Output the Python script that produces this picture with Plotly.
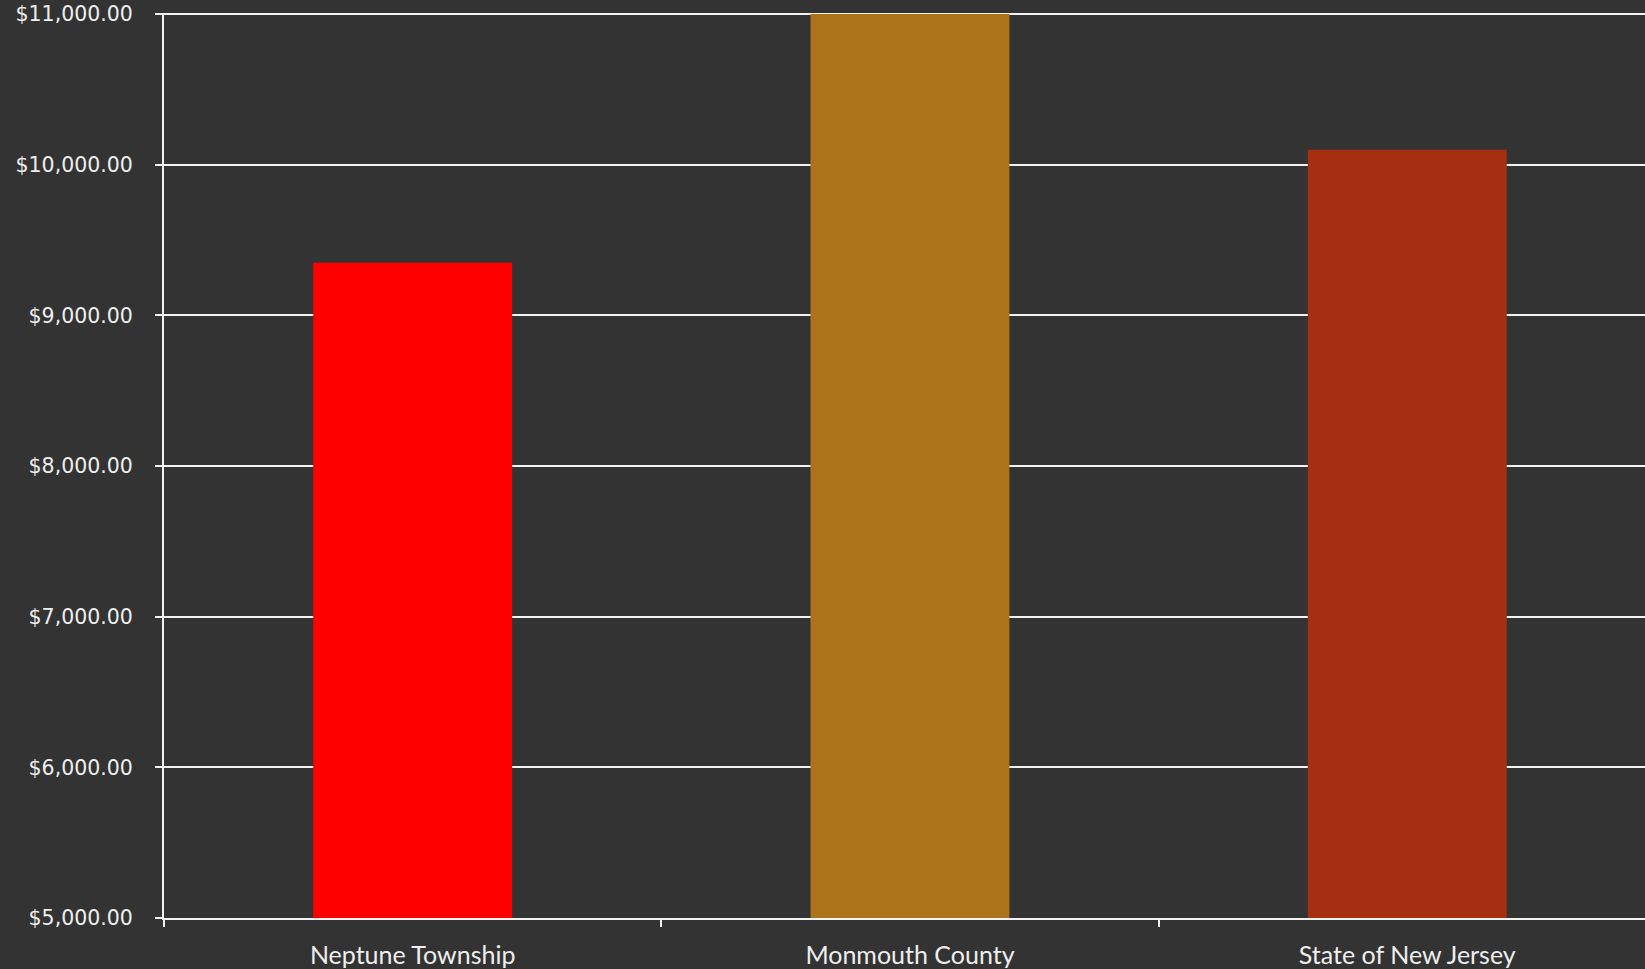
import plotly.graph_objects as go

categories = ["Neptune Township", "Monmouth County", "State of New Jersey"]
values = [9350, 11000, 10100]
colors = ["#FF0000", "#AD731A", "#A52F10"]
ytick_vals = [5000, 6000, 7000, 8000, 9000, 10000, 11000]
ytick_text = ["$5,000.00", "$6,000.00", "$7,000.00", "$8,000.00", "$9,000.00", "$10,000.00", "$11,000.00"]

fig = go.Figure(go.Bar(x=categories, y=values, marker=dict(color=colors, line=dict(width=0)), width=0.4))

fig.update_layout(
    width=1645, height=969, autosize=False,
    paper_bgcolor="#333333",
    plot_bgcolor="#333333",
    margin=dict(l=164, r=0, t=13, b=51),
    showlegend=False,
    bargap=0.6,
)
fig.update_xaxes(
    range=[-0.5, 2.478],
    showline=True, linecolor="#F2F2F2", linewidth=2,
    ticks="outside", tickson="boundaries", ticklen=7, tickwidth=1.5, tickcolor="#F2F2F2",
    showgrid=False,
    ticklabelstandoff=14,
    tickfont=dict(family="Lato", size=25, color="#EEEEEE"),
)
fig.update_yaxes(
    range=[5000, 11007],
    tickvals=ytick_vals, ticktext=ytick_text,
    showline=True, linecolor="#F2F2F2", linewidth=2,
    ticks="outside", ticklen=7, tickwidth=1.5, tickcolor="#F2F2F2",
    showgrid=True, gridcolor="#F2F2F2", gridwidth=2,
    zeroline=False,
    ticklabelstandoff=18,
    tickfont=dict(family="DejaVu Sans", size=20.5, color="#EEEEEE"),
)

post = ("document.body.style.margin='0';document.body.style.padding='0';"
        "document.body.style.overflow='hidden';"
        "document.body.style.backgroundColor='#333333';")
fig.write_html("out.html", post_script=post, config={"displayModeBar": False})
